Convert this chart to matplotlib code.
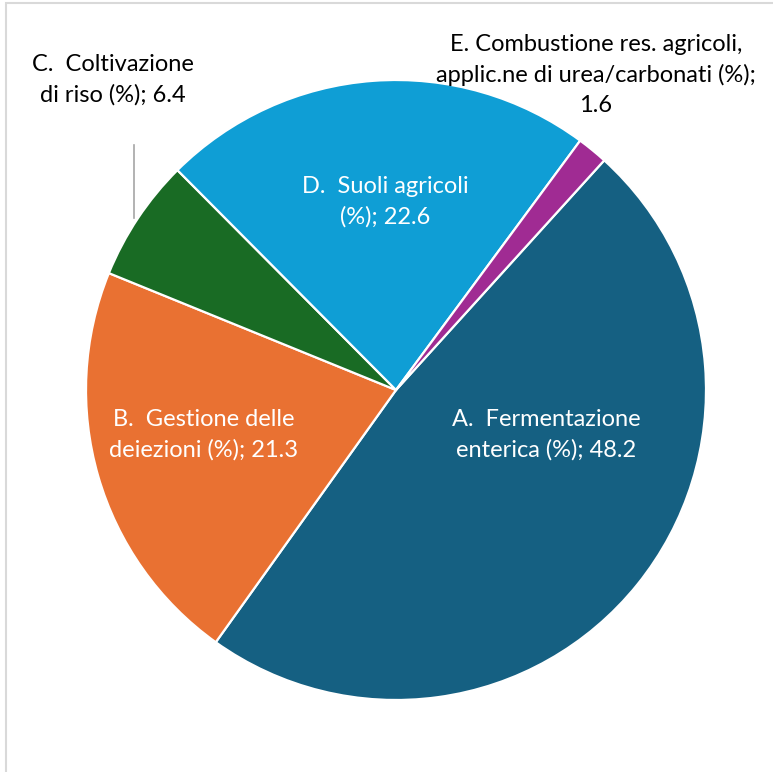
"""Pie chart: agricultural emissions by source (%)."""

import matplotlib.pyplot as plt
from matplotlib.patches import Rectangle

plt.rcParams["font.family"] = ["Lato", "DejaVu Sans"]

# Data
labels = [
    "A.  Fermentazione\nenterica (%); 48.2",
    "B.  Gestione delle\ndeiezioni (%); 21.3",
    "C.  Coltivazione\ndi riso (%); 6.4",
    "D.  Suoli agricoli\n(%); 22.6",
    "E. Combustione res. agricoli,\napplic.ne di urea/carbonati (%);\n1.6",
]
values = [48.2, 21.3, 6.4, 22.6, 1.6]
colors = ["#156082", "#E97132", "#196B24", "#0F9ED5", "#A02B93"]
text_colors = ["white", "white", "black", "white", "black"]

W, H = 773, 772
fig = plt.figure(figsize=(W / 100, H / 100), dpi=100)
ax = fig.add_axes([0, 0, 1, 1])

# chart frame (only top/left visible in the crop)
ax.add_patch(Rectangle((6, -20), W + 40, H - 3 + 20, fill=False,
                       edgecolor="#d9d9d9", linewidth=1.5))

cx, cy, r = 396, H - 390, 310
ax.pie(values, colors=colors, startangle=47.8, counterclock=False,
       center=(cx, cy), radius=r, frame=True,
       wedgeprops=dict(edgecolor="white", linewidth=1.6))
ax.set_xlim(0, W)
ax.set_ylim(0, H)
ax.set_aspect("equal")
ax.axis("off")

# label positions in pixel coords (from top-left)
label_pos = [(546, 435), (204, 435), (113, 80), (385, 202), (596, 75)]
for lab, (x, y), tc in zip(labels, label_pos, text_colors):
    ax.text(x, H - y, lab, ha="center", va="center", color=tc,
            fontsize=17, linespacing=1.5)

# leader line for C
ax.plot([134, 134], [H - 145, H - 218], color="#a6a6a6", linewidth=1.2)

fig.savefig("out.png", dpi=100, facecolor="white")
